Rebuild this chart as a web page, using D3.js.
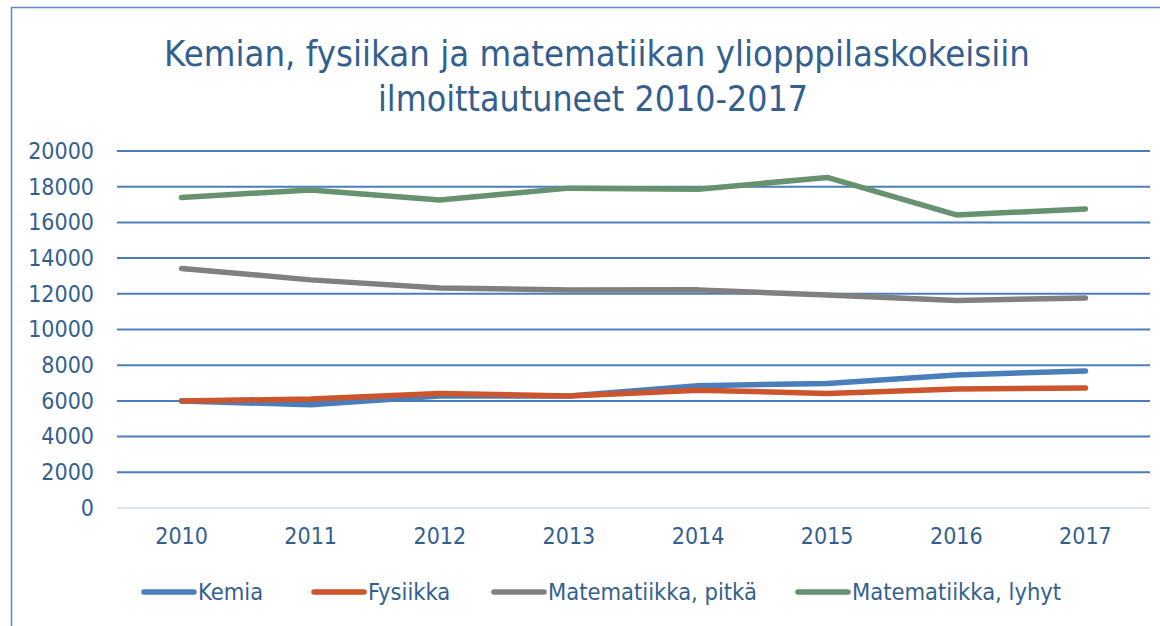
<!DOCTYPE html>
<html>
<head>
<meta charset="utf-8">
<script src="https://cdn.jsdelivr.net/npm/d3@7"></script>
<style>
  body { margin: 0; background: #fff; }
  text { font-family: "DejaVu Sans Condensed", "DejaVu Sans", sans-serif; font-stretch: condensed; }
</style>
</head>
<body>
<div id="chart"></div>
<script>
// data
const years = ["2010", "2011", "2012", "2013", "2014", "2015", "2016", "2017"];
const kemia = [6000, 5780, 6270, 6270, 6850, 6980, 7450, 7680];
const fysiikka = [6000, 6100, 6420, 6280, 6600, 6420, 6670, 6720];
const matPitka = [13420, 12780, 12330, 12210, 12220, 11930, 11630, 11770];
const matLyhyt = [17400, 17820, 17250, 17920, 17860, 18520, 16420, 16750];
const yTicks = [0, 2000, 4000, 6000, 8000, 10000, 12000, 14000, 16000, 18000, 20000];

const series = [
    { name: "Kemia", values: kemia, color: "#4a7ebb" },
    { name: "Fysiikka", values: fysiikka, color: "#cc552e" },
    { name: "Matematiikka, pitkä", values: matPitka, color: "#808080" },
    { name: "Matematiikka, lyhyt", values: matLyhyt, color: "#66926f" }
];

const W = 1160, H = 626;
const textColor = "#335f8f";
const gridColor = "#4a7ebb";

const svg = d3.select("#chart").append("svg")
    .attr("width", W)
    .attr("height", H);

// outer chart border
svg.append("rect")
    .attr("x", 11.5).attr("y", 7.5)
    .attr("width", W + 20).attr("height", H + 20)
    .attr("fill", "none")
    .attr("stroke", "#5b8cc6")
    .attr("stroke-width", 1.5);

// title
const title = svg.append("text")
    .attr("text-anchor", "middle")
    .attr("fill", textColor)
    .style("font-family", "'DejaVu Sans', sans-serif")
    .style("font-stretch", "normal")
    .attr("font-size", 35);
title.append("tspan").attr("x", 597).attr("y", 66)
    .attr("textLength", 866).attr("lengthAdjust", "spacingAndGlyphs")
    .text("Kemian, fysiikan ja matematiikan yliopppilaskokeisiin");
title.append("tspan").attr("x", 593).attr("y", 111)
    .attr("textLength", 430).attr("lengthAdjust", "spacingAndGlyphs")
    .text("ilmoittautuneet 2010-2017");

// scales
const x = d3.scaleBand().domain(years).range([117, 1150]);
const y = d3.scaleLinear().domain([0, 20000]).range([508, 151]);

// gridlines
svg.append("g")
    .selectAll("line")
    .data(yTicks)
    .join("line")
    .attr("x1", 117).attr("x2", 1150)
    .attr("y1", d => y(d)).attr("y2", d => y(d))
    .attr("stroke", d => d === 0 ? "#dbe5f1" : gridColor)
    .attr("stroke-width", 2);

// y axis labels
const yAxis = svg.append("g")
    .attr("transform", "translate(94,0)")
    .call(d3.axisLeft(y).tickValues(yTicks).tickSize(0).tickPadding(0).tickFormat(d3.format("d")));
yAxis.select(".domain").remove();
yAxis.selectAll("text")
    .attr("fill", textColor)
    .attr("font-size", 23)
    .style("font-family", null);

// x axis labels
const xAxis = svg.append("g")
    .attr("transform", "translate(0,520)")
    .call(d3.axisBottom(x).tickSize(0).tickPadding(8));
xAxis.select(".domain").remove();
xAxis.selectAll("text")
    .attr("fill", textColor)
    .attr("font-size", 23)
    .style("font-family", null);

// lines
const line = d3.line()
    .x((d, i) => x(years[i]) + x.bandwidth() / 2)
    .y(d => y(d));

svg.append("g")
    .selectAll("path")
    .data(series)
    .join("path")
    .attr("d", d => line(d.values))
    .attr("fill", "none")
    .attr("stroke", d => d.color)
    .attr("stroke-width", 5.5)
    .attr("stroke-linecap", "round")
    .attr("stroke-linejoin", "round");

// legend
const legendX = [142, 312, 492, 796];
const legend = svg.append("g")
    .selectAll("g")
    .data(series)
    .join("g")
    .attr("transform", (d, i) => "translate(" + legendX[i] + ",592)");

legend.append("line")
    .attr("x1", 2).attr("x2", 52)
    .attr("stroke", d => d.color)
    .attr("stroke-width", 5.5)
    .attr("stroke-linecap", "round");

legend.append("text")
    .attr("x", 56)
    .attr("dy", "0.35em")
    .attr("fill", textColor)
    .attr("font-size", 23.5)
    .text(d => d.name);
</script>
</body>
</html>
